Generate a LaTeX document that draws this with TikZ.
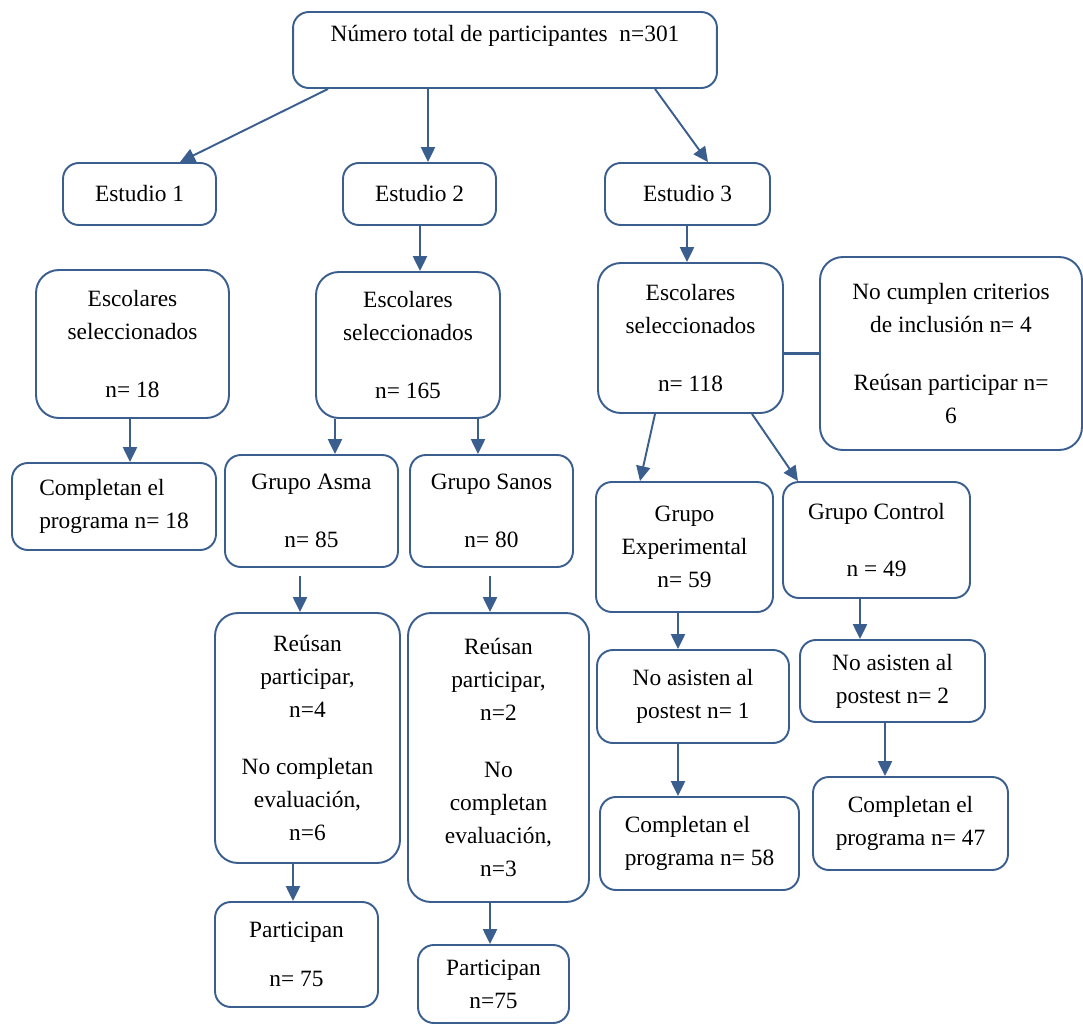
\documentclass[tikz,border=0pt]{standalone}
\usepackage{fontspec}
\setmainfont{Liberation Serif}
\usetikzlibrary{arrows.meta,calc}
\definecolor{boxblue}{HTML}{3A5F8F}

\begin{document}
\begin{tikzpicture}[
        x=0.02cm, y=-0.02cm,
        font=\fontsize{13.3}{18.8}\selectfont,
        main node/.style={draw=boxblue,line width=1.1pt,rounded corners=9pt,align=center,inner sep=2pt},
        big node/.style={main node,rounded corners=13pt},
        every edge/.style={draw=boxblue,line width=1.1pt,-{Triangle[width=8pt,length=8.5pt]}},
        plain line/.style={draw=boxblue,line width=1.2pt},
    ]
    \useasboundingbox (0,0) rectangle (1083,1025);

    % top and the three studies
    \node[main node,minimum width=8.48cm,minimum height=1.52cm] (total) at (505,50) {N\'umero total de participantes\ \ n=301\\ \mbox{}};
    \node[main node,minimum width=3.06cm,minimum height=1.24cm] (e1) at (139.5,194) {Estudio 1};
    \node[main node,minimum width=3.06cm,minimum height=1.24cm] (e2) at (419.5,194) {Estudio 2};
    \node[main node,minimum width=3.3cm,minimum height=1.24cm] (e3) at (687.5,194) {Estudio 3};

    % estudio 1
    \node[big node,minimum width=3.86cm,minimum height=2.96cm] (esc1) at (132.5,344) {Escolares\\seleccionados\\[14pt]n= 18};
    \node[main node,align=left,minimum width=4.08cm,minimum height=1.74cm] (comp1) at (114,506.5) {Completan el\\programa n= 18};

    % estudio 2
    \node[big node,minimum width=3.68cm,minimum height=2.92cm] (esc2) at (408,345) {Escolares\\seleccionados\\[14pt]n= 165};
    \node[main node,minimum width=3.46cm,minimum height=2.24cm] (asma) at (311.5,511) {Grupo Asma\\[14pt]n= 85};
    \node[main node,minimum width=3.26cm,minimum height=2.24cm] (sanos) at (491.5,511) {Grupo Sanos\\[14pt]n= 80};
    \node[big node,minimum width=3.7cm,minimum height=5cm] (reA) at (307.5,738) {Re\'usan\\participar,\\n=4\\[14pt]No completan\\evaluaci\'on,\\n=6};
    \node[big node,minimum width=3.62cm,minimum height=5.78cm] (reS) at (498.5,757.5) {Re\'usan\\participar,\\n=2\\[14pt]No\\completan\\evaluaci\'on,\\n=3};
    \node[main node,minimum width=3.26cm,minimum height=2.1cm] (partA) at (296.5,954.5) {Participan\\[9pt]n= 75};
    \node[main node,minimum width=3.02cm,minimum height=1.56cm] (partS) at (493.5,984) {Participan\\n=75};

    % estudio 3
    \node[big node,minimum width=3.7cm,minimum height=3cm] (esc3) at (690.5,338) {Escolares\\seleccionados\\[14pt]n= 118};
    \node[big node,minimum width=5.24cm,minimum height=3.86cm] (excl) at (951,353.5) {No cumplen criterios\\de inclusi\'on n= 4\\[14pt]Re\'usan participar n=\\6};
    \node[main node,minimum width=3.54cm,minimum height=2.6cm] (exp) at (684.5,547) {Grupo\\Experimental\\n= 59};
    \node[main node,minimum width=3.74cm,minimum height=2.32cm] (ctrl) at (876.5,540) {Grupo Control\\[14pt]n = 49};
    \node[main node,minimum width=3.84cm,minimum height=1.86cm] (noas1) at (693,696.5) {No asisten al\\postest n= 1};
    \node[main node,minimum width=3.7cm,minimum height=1.64cm] (noas2) at (892.5,681) {No asisten al\\postest n= 2};
    \node[main node,align=left,minimum width=3.98cm,minimum height=1.86cm] (comp58) at (699.5,843.5) {Completan el\\programa n= 58};
    \node[main node,minimum width=3.9cm,minimum height=1.86cm] (comp47) at (910.5,823.5) {Completan el\\programa n= 47};

    \path ($(total.south)+(-177,0)$) edge ($(e1.north)+(40.5,0)$);
    \path ($(total.south)+(-77,0)$) edge ($(e2.north)+(8.5,0)$);
    \path ($(total.south)+(150,0)$) edge ($(e3.north)+(20.5,0)$);
    \path ($(e2.south)+(0.5,0)$) edge ($(esc2.north)+(12,0)$);
    \path ($(e3.south)+(-0.5,0)$) edge ($(esc3.north)+(-3.5,0)$);
    \path ($(esc1.south)+(-2.5,0)$) edge ($(comp1.north)+(16,0)$);
    \path ($(esc2.south)+(-73,0)$) edge ($(asma.north)+(23.5,0)$);
    \path ($(esc2.south)+(70,0)$) edge ($(sanos.north)+(-13.5,0)$);
    \path[shorten <=4.5pt] ($(asma.south)+(-11.5,0)$) edge ($(reA.north)+(-7.5,0)$);
    \path[shorten <=4.5pt] ($(sanos.south)+(-1.5,0)$) edge ($(reS.north)+(-8.5,0)$);
    \path ($(reA.south)+(-14.5,0)$) edge ($(partA.north)+(-3.5,0)$);
    \path ($(reS.south)+(-8.5,0)$) edge ($(partS.north)+(-3.5,0)$);
    \path ($(esc3.south)+(-35.5,0)$) edge ($(exp.north)+(-44.5,0)$);
    \path ($(esc3.south)+(61.5,0)$) edge ($(ctrl.north)+(-78.5,0)$);
    \path ($(exp.south)+(-6.5,0)$) edge ($(noas1.north)+(-15,0)$);
    \path ($(ctrl.south)+(-16.5,0)$) edge ($(noas2.north)+(-32.5,0)$);
    \path ($(noas1.south)+(-15,0)$) edge ($(comp58.north)+(-21.5,0)$);
    \path ($(noas2.south)+(-7.5,0)$) edge ($(comp47.north)+(-25.5,0)$);
    \draw[plain line] (esc3.east |- excl.west) -- (excl.west);
\end{tikzpicture}
\end{document}
